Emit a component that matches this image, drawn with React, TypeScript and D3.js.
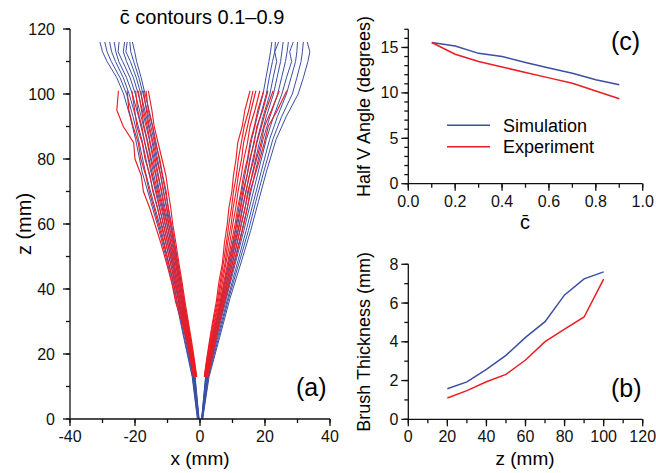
import { useRef, useEffect } from "react";
import * as d3 from "d3";

// panel (a): c-bar contours, x positions (mm) at fixed heights z (mm)
const simZ = [0, 13, 25, 37, 48, 58, 67, 76, 86, 93, 100, 105, 110, 113, 116];
const expZ = [13, 18, 24, 30, 36, 42, 48, 54, 60, 65, 70, 75, 80, 85, 90, 95, 101];

const simLeft = [
  [-0.3, -1.5, -3.3, -5.0, -6.8, -8.4, -10.1, -11.8, -13.7, -15.2, -16.9, -18.1, -19.5, -20.1, -20.8],
  [-0.3, -1.6, -3.5, -5.3, -7.1, -8.8, -10.6, -12.3, -14.2, -15.8, -17.5, -18.8, -20.4, -21.3, -21.6],
  [-0.4, -1.7, -3.7, -5.6, -7.5, -9.3, -11.2, -13.0, -14.9, -16.5, -18.2, -19.6, -21.4, -22.8, -22.4],
  [-0.4, -1.8, -3.9, -5.9, -7.9, -9.8, -11.8, -13.7, -15.6, -17.3, -19.0, -20.5, -22.6, -23.6, -23.2],
  [-0.5, -1.9, -4.1, -6.2, -8.3, -10.3, -12.4, -14.4, -16.4, -18.1, -19.9, -21.5, -23.8, -25.2, -24.9],
  [-0.5, -2.0, -4.3, -6.5, -8.7, -10.8, -13.0, -15.1, -17.2, -18.9, -20.8, -22.6, -25.0, -25.9, -26.4],
  [-0.6, -2.1, -4.5, -6.8, -9.1, -11.3, -13.6, -15.8, -17.9, -19.8, -21.8, -23.6, -26.0, -27.2, -27.8],
  [-0.7, -2.3, -4.8, -7.2, -9.6, -11.9, -14.4, -16.8, -18.9, -20.6, -22.6, -24.6, -27.3, -28.6, -29.3],
  [-0.8, -2.4, -5.0, -7.5, -10.0, -12.6, -15.2, -17.8, -19.8, -21.5, -23.5, -25.6, -28.6, -30.0, -30.8],
];

const simRight = [
  [0.5, 1.7, 3.9, 6.5, 8.8, 10.8, 12.3, 14.0, 15.9, 17.6, 19.4, 20.3, 21.2, 21.7, 22.1],
  [0.5, 1.8, 4.1, 6.8, 9.2, 11.3, 12.9, 14.7, 16.7, 18.5, 20.4, 21.3, 22.3, 23.0, 23.2],
  [0.6, 1.9, 4.3, 7.1, 9.6, 11.8, 13.6, 15.4, 17.6, 19.4, 21.5, 22.5, 23.6, 23.0, 24.2],
  [0.6, 2.0, 4.6, 7.4, 10.0, 12.3, 14.3, 16.2, 18.5, 20.4, 22.6, 23.7, 24.8, 25.2, 25.6],
  [0.6, 2.1, 4.8, 7.7, 10.4, 12.9, 15.0, 17.0, 19.4, 21.5, 23.9, 25.1, 26.3, 26.8, 27.2],
  [0.7, 2.3, 5.1, 8.1, 10.9, 13.5, 15.7, 17.9, 20.4, 22.6, 25.2, 26.6, 28.2, 27.6, 28.7],
  [0.7, 2.4, 5.4, 8.5, 11.5, 14.2, 16.5, 18.8, 21.4, 23.8, 26.6, 28.0, 29.4, 29.8, 30.0],
  [0.8, 2.6, 5.7, 8.8, 12.0, 14.9, 17.2, 19.6, 22.4, 25.1, 28.4, 29.8, 31.1, 31.5, 31.8],
  [0.8, 2.8, 6.0, 9.2, 12.6, 15.6, 18.0, 20.4, 23.4, 26.5, 30.2, 31.8, 33.2, 33.8, 33.0],
];

const expLeft = [
  [-1.0, -1.7, -2.6, -3.6, -4.6, -5.5, -6.5, -7.4, -8.4, -9.0, -9.8, -10.5, -11.7, -12.9, -14.1, -14.8, -15.9],
  [-1.1, -1.8, -2.8, -3.8, -4.9, -5.8, -6.9, -7.9, -9.0, -9.8, -10.4, -11.5, -12.4, -13.8, -14.6, -15.9, -16.6],
  [-1.2, -1.9, -2.9, -4.0, -5.1, -6.1, -7.3, -8.3, -9.6, -10.3, -11.3, -12.1, -13.4, -14.4, -15.6, -16.5, -17.4],
  [-1.3, -2.0, -3.1, -4.2, -5.4, -6.4, -7.6, -8.9, -10.1, -11.1, -11.9, -13.0, -14.1, -15.3, -16.2, -17.4, -18.2],
  [-1.4, -2.2, -3.3, -4.4, -5.7, -6.8, -8.1, -9.4, -10.7, -11.6, -12.8, -13.6, -15.0, -16.0, -17.2, -18.0, -19.0],
  [-1.5, -2.3, -3.4, -4.7, -6.1, -7.2, -8.5, -9.9, -11.3, -12.4, -13.4, -14.6, -15.7, -17.0, -17.9, -19.2, -19.8],
  [-1.7, -2.5, -3.7, -5.0, -6.5, -7.6, -9.1, -10.5, -12.0, -13.1, -14.5, -15.4, -16.9, -17.8, -19.4, -20.1, -21.0],
  [-1.8, -2.7, -3.9, -5.3, -7.0, -8.1, -9.7, -11.2, -12.8, -14.2, -15.6, -16.7, -18.2, -19.0, -20.6, -21.9, -22.4],
  [-2.0, -2.9, -4.1, -5.6, -7.5, -8.7, -10.3, -12.0, -13.9, -15.5, -17.4, -18.1, -20.0, -20.4, -23.6, -25.6, -25.1],
];

const expRight = [
  [1.3, 2.0, 2.9, 3.9, 5.0, 5.8, 6.9, 7.5, 8.4, 8.9, 9.8, 10.3, 11.1, 11.6, 13.0, 13.8, 15.4],
  [1.4, 2.1, 3.1, 4.1, 5.3, 6.2, 7.2, 8.1, 8.9, 9.7, 10.3, 11.2, 11.8, 12.7, 13.6, 15.0, 16.3],
  [1.5, 2.2, 3.3, 4.4, 5.6, 6.5, 7.7, 8.5, 9.6, 10.2, 11.1, 11.8, 12.8, 13.4, 14.6, 15.7, 17.2],
  [1.7, 2.4, 3.5, 4.6, 5.9, 6.9, 8.0, 9.1, 10.1, 11.0, 11.7, 12.7, 13.5, 14.6, 15.4, 16.9, 18.4],
  [1.8, 2.6, 3.7, 4.9, 6.2, 7.3, 8.5, 9.6, 10.8, 11.6, 12.6, 13.4, 14.6, 15.4, 16.7, 17.8, 19.6],
  [2.0, 2.8, 3.9, 5.1, 6.5, 7.7, 8.9, 10.2, 11.3, 12.4, 13.2, 14.5, 15.3, 16.7, 17.5, 19.3, 20.9],
  [2.2, 3.0, 4.2, 5.4, 6.8, 8.2, 9.5, 10.7, 12.1, 13.0, 14.1, 15.2, 16.6, 17.5, 18.9, 20.3, 22.5],
  [2.4, 3.3, 4.5, 5.8, 7.2, 8.6, 10.0, 11.4, 12.7, 13.9, 14.7, 16.1, 17.4, 18.8, 19.8, 22.0, 24.4],
  [2.6, 3.5, 4.8, 6.1, 7.6, 9.1, 10.6, 12.1, 13.5, 14.6, 15.4, 16.9, 18.4, 19.8, 21.0, 23.8, 26.7],
];

// panel (c): half V angle vs c-bar
const cBar = [0.1, 0.2, 0.3, 0.4, 0.5, 0.6, 0.7, 0.8, 0.9];
const angleSim = [15.55, 15.15, 14.35, 14.0, 13.35, 12.75, 12.15, 11.45, 10.9];
const angleExp = [15.55, 14.25, 13.45, 12.85, 12.25, 11.65, 11.05, 10.2, 9.35];

// panel (b): brush thickness vs z
const zMm = [20, 30, 40, 50, 60, 70, 80, 90, 100];
const thickSim = [1.58, 1.93, 2.58, 3.3, 4.23, 5.04, 6.42, 7.25, 7.61];
const thickExp = [1.1, 1.48, 1.94, 2.32, 3.06, 4.01, 4.65, 5.28, 7.23];

const FONT = "'Liberation Sans', Arial, Helvetica, sans-serif";
const BLUE = "#3b4fa3";
const RED = "#ec1c24";

type Scale = d3.ScaleLinear<number, number>;

function drawAxes(
  g: d3.Selection<SVGGElement, unknown, null, undefined>,
  x: Scale,
  y: Scale,
  xMajor: number,
  xMinor: number,
  yMajor: number,
  yMinor: number,
  fmtX: (v: number) => string,
  labelGap: number
) {
  const [x0, x1] = x.range();
  const [y0, y1] = y.range();
  const ticks = (s: Scale, step: number) => {
    const [a, b] = s.domain();
    return d3.range(Math.round((b - a) / step) + 1).map((i) => a + i * step);
  };

  g.append("line").attr("x1", x0).attr("x2", x1).attr("y1", y0).attr("y2", y0);
  g.append("line").attr("x1", x0).attr("x2", x0).attr("y1", y0).attr("y2", y1);

  g.selectAll(".xm")
    .data(ticks(x, xMinor))
    .join("line")
    .attr("x1", (d) => x(d))
    .attr("x2", (d) => x(d))
    .attr("y1", y0)
    .attr("y2", y0 + 4);
  g.selectAll(".xM")
    .data(ticks(x, xMajor))
    .join("line")
    .attr("x1", (d) => x(d))
    .attr("x2", (d) => x(d))
    .attr("y1", y0)
    .attr("y2", y0 + 7);
  g.selectAll(".ym")
    .data(ticks(y, yMinor))
    .join("line")
    .attr("x1", x0 - 4)
    .attr("x2", x0)
    .attr("y1", (d) => y(d))
    .attr("y2", (d) => y(d));
  g.selectAll(".yM")
    .data(ticks(y, yMajor))
    .join("line")
    .attr("x1", x0 - 7)
    .attr("x2", x0)
    .attr("y1", (d) => y(d))
    .attr("y2", (d) => y(d));
  g.selectAll("line").attr("stroke", "#111").attr("stroke-width", 1.3);

  g.selectAll(".xl")
    .data(ticks(x, xMajor))
    .join("text")
    .attr("x", (d) => x(d))
    .attr("y", y0 + 23)
    .attr("text-anchor", "middle")
    .text((d) => fmtX(d));
  g.selectAll(".yl")
    .data(ticks(y, yMajor))
    .join("text")
    .attr("x", x0 - labelGap)
    .attr("y", (d) => y(d) + 5.5)
    .attr("text-anchor", "end")
    .text((d) => String(d));
  g.selectAll("text").attr("font-size", 16).attr("fill", "#111");
}

export default function App() {
  const svgRef = useRef<SVGSVGElement | null>(null);

  useEffect(() => {
    if (!svgRef.current) return;
    const svg = d3.select(svgRef.current);
    svg.selectAll("*").remove();
    svg.attr("font-family", FONT);

    // ---- panel (a)
    const xA = d3.scaleLinear().domain([-40, 40]).range([70, 330]);
    const yA = d3.scaleLinear().domain([0, 120]).range([419, 29]);
    const gA = svg.append("g");

    const contour = (zs: number[]) =>
      d3
        .line<number>()
        .x((d) => xA(d))
        .y((_, i) => yA(zs[i]));

    const drawSet = (sets: number[][], zs: number[], color: string, w: number) => {
      gA.append("g")
        .selectAll("path")
        .data(sets)
        .join("path")
        .attr("d", (d) => contour(zs)(d))
        .attr("fill", "none")
        .attr("stroke", color)
        .attr("stroke-width", w);
    };
    drawSet(simLeft, simZ, BLUE, 1);
    drawSet(simRight, simZ, BLUE, 1);
    drawSet(expLeft, expZ, RED, 1.15);
    drawSet(expRight, expZ, RED, 1.15);

    drawAxes(gA.append("g"), xA, yA, 20, 10, 20, 10, (v) => String(v), 15);

    gA.append("text")
      .attr("x", 202)
      .attr("y", 24)
      .attr("text-anchor", "middle")
      .attr("font-size", 20)
      .text("c\u0304 contours 0.1\u20130.9");
    gA.append("text")
      .attr("x", 200)
      .attr("y", 465)
      .attr("text-anchor", "middle")
      .attr("font-size", 19)
      .text("x (mm)");
    gA.append("text")
      .attr("transform", "translate(31,224) rotate(-90)")
      .attr("text-anchor", "middle")
      .attr("font-size", 20)
      .text("z (mm)");
    gA.append("text").attr("x", 296).attr("y", 396).attr("font-size", 25).text("(a)");

    // ---- panel (c)
    const xC = d3.scaleLinear().domain([0, 1]).range([408.3, 642.7]);
    const yC = d3.scaleLinear().domain([0, 17]).range([183.7, 29.3]);
    const gC = svg.append("g");
    drawAxes(gC.append("g"), xC, yC, 0.2, 0.1, 5, 1, (v) => v.toFixed(1), 10);

    const angleLine = (vals: number[]) =>
      d3
        .line<number>()
        .x((_, i) => xC(cBar[i]))
        .y((d) => yC(d))(vals);
    gC.append("path").attr("d", angleLine(angleSim)).attr("fill", "none").attr("stroke", BLUE).attr("stroke-width", 1.5);
    gC.append("path").attr("d", angleLine(angleExp)).attr("fill", "none").attr("stroke", RED).attr("stroke-width", 1.5);

    const legend = [
      { name: "Simulation", color: BLUE, y: 125.3 },
      { name: "Experiment", color: RED, y: 146.7 },
    ];
    legend.forEach((l) => {
      gC.append("line").attr("x1", 447).attr("x2", 490).attr("y1", l.y).attr("y2", l.y).attr("stroke", l.color).attr("stroke-width", 1.5);
      gC.append("text").attr("x", 503).attr("y", l.y + 6.5).attr("font-size", 18).text(l.name);
    });

    gC.append("text")
      .attr("transform", "translate(370,106.5) rotate(-90)")
      .attr("text-anchor", "middle")
      .attr("font-size", 18)
      .text("Half V Angle (degrees)");
    gC.append("text").attr("x", 525).attr("y", 229).attr("text-anchor", "middle").attr("font-size", 20).text("c\u0304");
    gC.append("text").attr("x", 611).attr("y", 50).attr("font-size", 25).text("(c)");

    // ---- panel (b)
    const xB = d3.scaleLinear().domain([0, 120]).range([408.3, 642.7]);
    const yB = d3.scaleLinear().domain([0, 8]).range([419.3, 264.3]);
    const gB = svg.append("g");
    drawAxes(gB.append("g"), xB, yB, 20, 10, 2, 1, (v) => String(v), 10);

    const thickLine = (vals: number[]) =>
      d3
        .line<number>()
        .x((_, i) => xB(zMm[i]))
        .y((d) => yB(d))(vals);
    gB.append("path").attr("d", thickLine(thickSim)).attr("fill", "none").attr("stroke", BLUE).attr("stroke-width", 1.5);
    gB.append("path").attr("d", thickLine(thickExp)).attr("fill", "none").attr("stroke", RED).attr("stroke-width", 1.5);

    gB.append("text")
      .attr("transform", "translate(370,341.8) rotate(-90)")
      .attr("text-anchor", "middle")
      .attr("font-size", 18)
      .text("Brush Thickness (mm)");
    gB.append("text").attr("x", 525).attr("y", 465).attr("text-anchor", "middle").attr("font-size", 19).text("z (mm)");
    gB.append("text").attr("x", 611).attr("y", 397).attr("font-size", 25).text("(b)");
  }, []);

  return (
    <svg
      ref={svgRef}
      width={656}
      height={473}
      viewBox="0 0 656 473"
      style={{ position: "absolute", left: 0, top: 0, background: "#fff" }}
    />
  );
}
